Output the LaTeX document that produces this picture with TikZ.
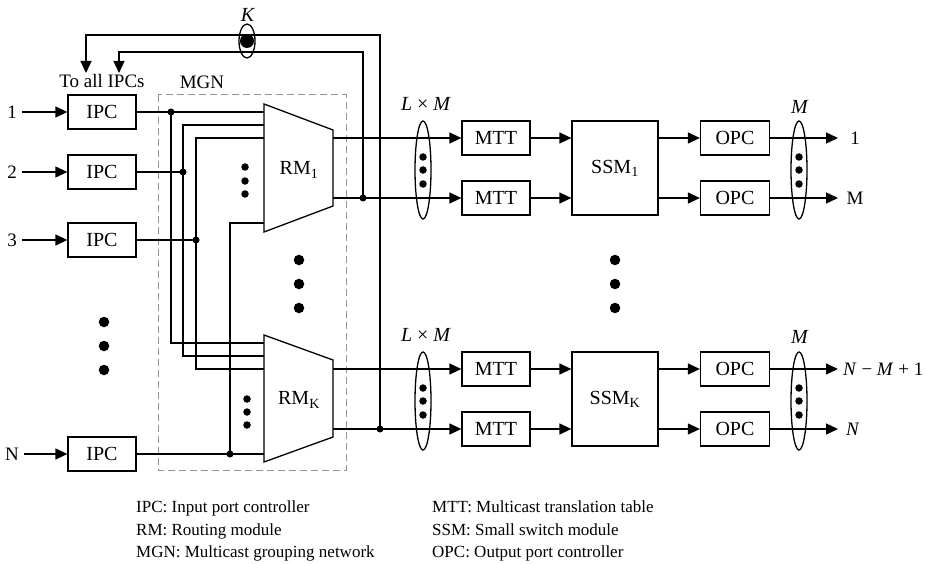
\documentclass[tikz,border=0pt]{standalone}
\usepackage{fontspec}
\setmainfont{Liberation Serif}
\usepackage{tikz}
\usetikzlibrary{arrows.meta, positioning, calc, shapes.geometric}

\newcommand{\diagfont}{\fontsize{20}{24}\selectfont}
\newcommand{\labfont}{\fontsize{19}{23}\selectfont}
\newcommand{\keyfont}{\fontsize{17}{22.5}\selectfont}

\begin{document}
\begin{tikzpicture}[x=1pt, y=-1pt,
  wire/.style={line width=1.3pt},
  arr/.style={line width=1.3pt, -{Triangle[length=12pt, width=11pt]}},
  blk/.style={draw, line width=1.3pt, minimum width=68pt, minimum height=34pt, inner sep=0pt, font=\diagfont},
  iolbl/.style={inner sep=5pt, font=\labfont},
  jdot/.style={circle, fill, inner sep=0pt, minimum size=7pt},
  smalldot/.style={circle, fill, inner sep=0pt, minimum size=7.5pt},
  bigdot/.style={circle, fill, inner sep=0pt, minimum size=10.5pt},
  bundle/.style={draw, ellipse, line width=1.3pt, minimum width=16pt, minimum height=98pt, inner sep=0pt},
  keytext/.style={anchor=west, align=left, inner sep=0pt, font=\keyfont}]

  \useasboundingbox (0,0) rectangle (925,564);

  % Input side
  \node[blk] (ipc1) at (102,112) {IPC};
  \node[blk] (ipc2) at (102,172) {IPC};
  \node[blk] (ipc3) at (102,240) {IPC};
  \node[blk] (ipcN) at (102,454) {IPC};
  \node[iolbl] (in1) at (12,112) {1};
  \node[iolbl] (in2) at (12,172) {2};
  \node[iolbl] (in3) at (12,240) {3};
  \node[iolbl] (inN) at (12,454) {N};
  \foreach \i in {1,2,3,N}
    \draw[arr] (in\i) -- (ipc\i);
  \foreach \y in {322,346,370}
    \node[bigdot] (indot\y) at (104,\y) {};

  % Multicast grouping network
  \draw[gray!85, line width=1pt, dash pattern=on 7pt off 4pt] (158,95) rectangle (346,470);
  \node[font=\labfont] (mgn) at (202,82) {MGN};

  \draw[wire] (264,104) -- (333,130) -- (333,206) -- (264,232) -- cycle;
  \draw[wire] (264,335) -- (333,360) -- (333,437) -- (264,462) -- cycle;
  \node[font=\diagfont] (rm1) at (299,170) {RM\textsubscript{1}};
  \node[font=\diagfont] (rmK) at (299,400) {RM\textsubscript{K}};

  \coordinate (rm1a) at (264,112);
  \coordinate (rm1b) at (264,125);
  \coordinate (rm1c) at (264,138);
  \coordinate (rm1d) at (264,223);
  \coordinate (rmKa) at (264,343);
  \coordinate (rmKb) at (264,356);
  \coordinate (rmKc) at (264,369);
  \coordinate (rmKd) at (264,454);
  \coordinate (rm1o1) at (333,138);
  \coordinate (rm1o2) at (333,198);
  \coordinate (rmKo1) at (333,369);
  \coordinate (rmKo2) at (333,429);

  \node[jdot] (j1) at (171,112) {};
  \node[jdot] (j2) at (183,172) {};
  \node[jdot] (j3) at (196,240) {};
  \node[jdot] (jN) at (230,454) {};

  \draw[wire] (ipc1.east) -- (rm1a);
  \draw[wire] (j1.center) |- (rmKa);
  \draw[wire] (ipc2.east) -- (j2.center);
  \draw[wire] (rm1b) -| (j2.center) |- (rmKb);
  \draw[wire] (ipc3.east) -- (j3.center);
  \draw[wire] (rm1c) -| (j3.center) |- (rmKc);
  \draw[wire] (ipcN.east) -- (rmKd);
  \draw[wire] (jN.center) |- (rm1d);

  \foreach \y in {167,181,194}
    \node[smalldot] (rm1dot\y) at (245,\y) {};
  \foreach \y in {399,412,425}
    \node[smalldot] (rmKdot\y) at (247,\y) {};
  \foreach \y in {260,284,308}
    \node[bigdot] (rmdot\y) at (299,\y) {};

  % Feedback to the IPCs
  \node[jdot] (f1) at (363,198) {};
  \node[jdot] (fK) at (380,429) {};
  \coordinate (t1) at (119,73);
  \coordinate (tK) at (86,73);
  \draw[arr] (f1.center) -- (363,52) -| (t1);
  \draw[arr] (fK.center) -- (380,35) -| (tK);
  \node[font=\labfont] (toall) at (102,81) {To all IPCs};
  \node[draw, ellipse, line width=1.3pt, minimum width=16pt, minimum height=34pt, inner sep=0pt] (kbundle) at (247,41) {};
  \node[circle, fill, inner sep=0pt, minimum size=14pt] (kdot) at (247,41) {};
  \node[font=\diagfont] (klbl) at (248,15) {\textit{K}};

  % Translation tables and small switches
  \node[blk] (mtt1a) at (496,138) {MTT};
  \node[blk] (mtt1b) at (496,198) {MTT};
  \node[blk] (mttKa) at (496,369) {MTT};
  \node[blk] (mttKb) at (496,429) {MTT};
  \node[blk, minimum width=86pt, minimum height=94pt] (ssm1) at (615,168) {SSM\textsubscript{1}};
  \node[blk, minimum width=86pt, minimum height=94pt] (ssmK) at (615,399) {SSM\textsubscript{K}};
  \foreach \y in {260,284,308}
    \node[bigdot] (ssmdot\y) at (615,\y) {};

  \draw[arr] (rm1o1) -- (mtt1a);
  \draw[arr] (rm1o2) -- (mtt1b);
  \draw[arr] (rmKo1) -- (mttKa);
  \draw[arr] (rmKo2) -- (mttKb);
  \draw[arr] (mtt1a) -- (mtt1a -| ssm1.west);
  \draw[arr] (mtt1b) -- (mtt1b -| ssm1.west);
  \draw[arr] (mttKa) -- (mttKa -| ssmK.west);
  \draw[arr] (mttKb) -- (mttKb -| ssmK.west);

  \node[bundle] (lm1) at (423,170) {};
  \node[bundle] (lmK) at (423,401) {};
  \foreach \y in {157,170,184}
    \node[smalldot] (lm1dot\y) at (423,\y) {};
  \foreach \y in {388,401,415}
    \node[smalldot] (lmKdot\y) at (423,\y) {};
  \node[font=\diagfont] (lm1lbl) at (426,104) {\textit{L} × \textit{M}};
  \node[font=\diagfont] (lmKlbl) at (426,335) {\textit{L} × \textit{M}};

  % Output port controllers
  \node[blk, minimum width=69pt] (opc1a) at (735,138) {OPC};
  \node[blk, minimum width=69pt] (opc1b) at (735,198) {OPC};
  \node[blk, minimum width=69pt] (opcKa) at (735,369) {OPC};
  \node[blk, minimum width=69pt] (opcKb) at (735,429) {OPC};
  \draw[arr] (ssm1.east |- opc1a) -- (opc1a);
  \draw[arr] (ssm1.east |- opc1b) -- (opc1b);
  \draw[arr] (ssmK.east |- opcKa) -- (opcKa);
  \draw[arr] (ssmK.east |- opcKb) -- (opcKb);

  \coordinate (o1a) at (838,138);
  \coordinate (o1b) at (838,198);
  \coordinate (oKa) at (838,369);
  \coordinate (oKb) at (838,429);
  \draw[arr] (opc1a) -- (o1a);
  \draw[arr] (opc1b) -- (o1b);
  \draw[arr] (opcKa) -- (oKa);
  \draw[arr] (opcKb) -- (oKb);

  \node[bundle] (m1) at (799,170) {};
  \node[bundle] (mK) at (799,401) {};
  \foreach \y in {157,170,184}
    \node[smalldot] (m1dot\y) at (799,\y) {};
  \foreach \y in {388,401,415}
    \node[smalldot] (mKdot\y) at (799,\y) {};
  \node[font=\diagfont] (m1lbl) at (800,107) {\textit{M}};
  \node[font=\diagfont] (mKlbl) at (800,337) {\textit{M}};

  \node[font=\labfont] (out1) at (855,138) {1};
  \node[font=\labfont] (outM) at (855,198) {M};
  \node[font=\labfont, anchor=west, inner sep=0pt] (outNM) at (843,369) {\textit{N} − \textit{M} + 1};
  \node[font=\labfont, anchor=west, inner sep=0pt] (outN) at (846,429) {\textit{N}};

  % Key
  \node[keytext] (keyL) at (136,531) {IPC: Input port controller\\RM: Routing module\\MGN: Multicast grouping network};
  \node[keytext] (keyR) at (432,531) {MTT: Multicast translation table\\SSM: Small switch module\\OPC: Output port controller};
\end{tikzpicture}
\end{document}
